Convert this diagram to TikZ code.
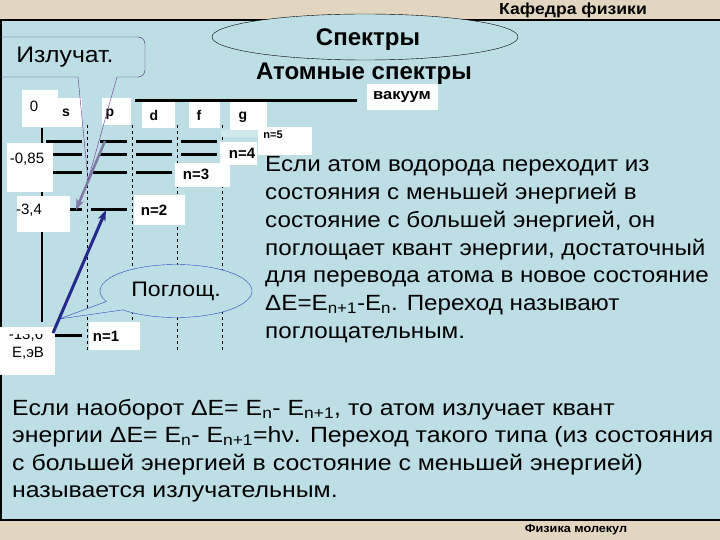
\documentclass[tikz,border=0pt]{standalone}
\usepackage{fontspec}
\setmainfont{Liberation Sans}
\newfontfamily\widefont{Liberation Sans}[FakeStretch=1.1]
\newfontfamily\footfont{Liberation Sans}[FakeStretch=1.13]
\usetikzlibrary{arrows.meta,shapes.geometric,shapes.callouts}

\definecolor{slideblue}{RGB}{188,222,228}
\definecolor{paleblue}{RGB}{208,233,237}
\definecolor{paper}{RGB}{226,214,192}
\definecolor{emitgray}{RGB}{128,120,165}
\definecolor{absnavy}{RGB}{38,40,140}
\definecolor{poglblue}{RGB}{40,70,200}
\definecolor{izlpurple}{RGB}{70,40,110}
\definecolor{izlline}{RGB}{110,50,150}

\tikzset{
  level/.style={line width=3pt},
  sublevel/.style={dashed, line width=0.6pt},
  energy/.style={font=\fontsize{15}{17}\selectfont},
  orbital/.style={font=\bfseries\fontsize{14}{16}\selectfont},
  nlabel/.style={font=\bfseries\fontsize{15}{17}\selectfont},
  bodytext/.style={anchor=base west, inner sep=0, font=\widefont\fontsize{22}{26}\selectfont},
  foottext/.style={anchor=base west, inner sep=0, font=\footfont\fontsize{22}{26}\selectfont},
  transition/.style={line width=3pt, -{Stealth[length=11pt,width=8pt]}},
}

\begin{document}
\begin{tikzpicture}[x=1pt,y=-1pt]
    \useasboundingbox (0,0) rectangle (720,540);
    % slide
    \fill[paper] (0,0) rectangle (720,540);
    \fill[slideblue] (0,20) rectangle (720,520);
    \draw[line width=1.5pt] (0,20) -- (720,20);
    \draw[line width=1.5pt] (0,520) -- (720,520);
    \draw[line width=2pt] (1,20) -- (1,520);
    \node[font=\widefont\bfseries\fontsize{16}{18}\selectfont] (dept) at (573,10) {Кафедра физики};
    \node[font=\widefont\bfseries\fontsize{11.5}{13}\selectfont] (course) at (576,530) {Физика молекул};

    % title
    \node[ellipse, draw, fill=slideblue, minimum width=306pt, minimum height=46pt, inner sep=0] (oval) at (365,37) {};
    \node[font=\bfseries\fontsize{24}{28}\selectfont] (spectra) at (368,40) {Спектры};
    \node[font=\bfseries\fontsize{24}{28}\selectfont] (atomic) at (364,74) {Атомные спектры};

    % energy axis and columns
    \draw[line width=1.5pt] (42,128) -- (42,322);
    \foreach \x in {87,132,177,222}
        \draw[sublevel] (\x,125) -- (\x,352);
    \draw[level] (135,101) -- (357,101);

    % levels
    \draw[level] (46,142) -- (82,142); \draw[level] (100,142) -- (127,142);
    \draw[level] (136,142) -- (172,142); \draw[level] (181,142) -- (217,142);
    \draw[level] (46,155) -- (82,155); \draw[level] (100,155) -- (127,155);
    \draw[level] (136,155) -- (172,155); \draw[level] (181,155) -- (217,155);
    \draw[level] (46,173) -- (82,173); \draw[level] (93,173) -- (127,173);
    \draw[level] (136,173) -- (172,173);
    \draw[level] (62,210) -- (82,210); \draw[level] (91,210) -- (127,210);
    \draw[level] (55,335) -- (82,335);

    % white labels
    \fill[white] (22,90) rectangle (58,127);   \node[energy] (zero) at (34,106) {0};
    \fill[white] (58,98) rectangle (82,127);   \node[orbital] (orbs) at (66,113) {s};
    \fill[white] (102,98) rectangle (131,125); \node[orbital] (orbp) at (110,114) {p};
    \fill[white] (142,102) rectangle (175,128); \node[orbital] (orbd) at (154,115) {d};
    \fill[white] (189,102) rectangle (220,128); \node[orbital] (orbf) at (199,115) {f};
    \fill[white] (230,102) rectangle (267,130); \node[orbital] (orbg) at (243,117) {g};
    \fill[paleblue] (221,130) rectangle (258,137);
    \fill[white] (367,84) rectangle (438,110);
    \node[font=\widefont\bfseries\fontsize{15}{17}\selectfont] (vac) at (402,97) {вакуум};
    \fill[white] (258,127) rectangle (312,155);
    \node[font=\bfseries\fontsize{11}{13}\selectfont] (lvl5) at (273,135) {n=5};
    \fill[white] (7,143) rectangle (53,192);   \node[energy] (e4) at (27,159) {-0,85};
    \fill[white] (17,196) rectangle (70,232);  \node[energy] (e2) at (29,210) {-3,4};
    \fill[white] (220,142) rectangle (257,165); \node[nlabel] (lvl4) at (242,153) {n=4};
    \fill[white] (175,163) rectangle (230,187); \node[nlabel] (lvl3) at (196,174) {n=3};
    \fill[white] (134,195) rectangle (185,225); \node[nlabel] (lvl2) at (154,210) {n=2};
    \fill[white] (89,322) rectangle (140,350);  \node[nlabel] (lvl1) at (106,336) {n=1};
    \fill[white] (0,327) rectangle (55,375);
    \begin{scope}
        \clip (0,334) rectangle (55,375);
        \node[energy, anchor=base] (e1) at (26,339) {-13,6};
    \end{scope}
    \node[energy] (eunit) at (28,353) {E,эВ};

    % absorption callout
    \node[ellipse callout, draw=poglblue, fill=slideblue, minimum width=152pt, minimum height=53pt,
          inner sep=0, callout absolute pointer={(59,319)}, callout pointer arc=22,
          font=\widefont\fontsize{21}{24}\selectfont] (pogl) at (176,291) {Поглощ.};

    % transitions
    \coordinate (p5) at (105,141);
    \coordinate (s2) at (76,210);
    \coordinate (s1) at (53,333);
    \coordinate (p2) at (106,210);
    \draw[transition, emitgray, line width=2.5pt] (p5) -- (s2);
    \draw[transition, absnavy] (s1) -- (p2);

    % emission callout
    \draw[izlpurple, rounded corners=7pt] (117,77) -- (145,77) -- (145,37) -- (-6,37) -- (-6,77) -- (78,77);
    \coordinate (izltip) at (88,180);
    \draw[izlline] (78,77) -- (izltip) -- (117,77);
    \node[font=\widefont\fontsize{22.5}{26}\selectfont] (izl) at (65,57) {Излучат.};

    % text
    \node[bodytext] (t1) at (265,172) {Если атом водорода переходит из};
    \node[bodytext] (t2) at (265,199.5) {состояния с меньшей энергией в};
    \node[bodytext] (t3) at (265,227) {состояние с большей энергией, он};
    \node[bodytext] (t4) at (265,255) {поглощает квант энергии, достаточный};
    \node[bodytext] (t5) at (265,282.5) {для перевода атома в новое состояние};
    \node[bodytext] (t6) at (265,310) {ΔE=E\textsubscript{n+1}-E\textsubscript{n}. Переход называют};
    \node[bodytext] (t7) at (265,338) {поглощательным.};

    \node[foottext] (b1) at (12,415) {Если наоборот ΔE= E\textsubscript{n}- E\textsubscript{n+1}, то атом излучает квант};
    \node[foottext] (b2) at (12,442.5) {энергии ΔE= E\textsubscript{n}- E\textsubscript{n+1}=hν. Переход такого типа (из состояния};
    \node[foottext] (b3) at (12,470) {с большей энергией в состояние с меньшей энергией)};
    \node[foottext] (b4) at (12,497.5) {называется излучательным.};
\end{tikzpicture}
\end{document}
